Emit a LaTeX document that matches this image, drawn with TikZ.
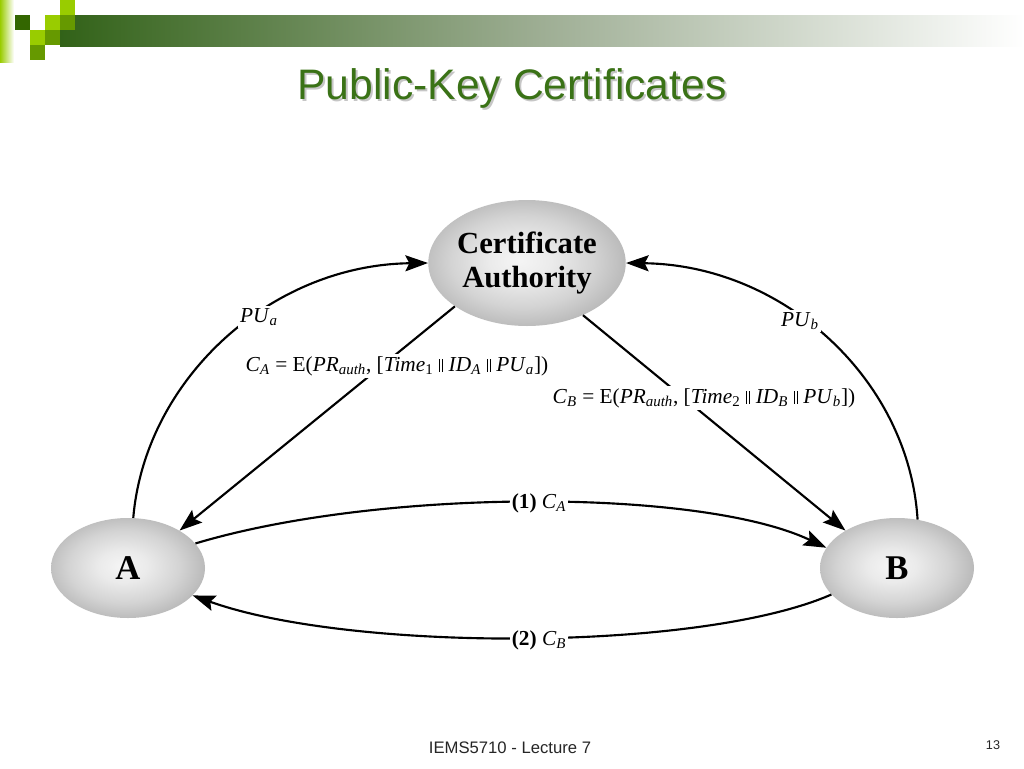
\documentclass[tikz,border=0pt]{standalone}
\usepackage{fontspec}
\setmainfont{Liberation Serif}
\newfontfamily\arialf{Liberation Sans}
\usetikzlibrary{shapes.geometric,arrows.meta}
\definecolor{lgreen}{RGB}{153,204,0}
\definecolor{mgreen}{RGB}{102,153,0}
\definecolor{dgreen}{RGB}{51,102,0}
\definecolor{bargreen}{RGB}{50,98,24}
\definecolor{barmid}{RGB}{158,174,148}
\definecolor{titlegreen}{RGB}{58,114,22}
\pgfdeclareradialshading{bubshade}{\pgfpoint{-2bp}{1bp}}{color(0bp)=(white!96!black); color(8bp)=(white!92!black); color(18bp)=(white!83!black); color(26bp)=(white!73!black); color(31bp)=(white!64!black); color(35bp)=(white!57!black); color(50bp)=(white!57!black)}
\newcommand{\sbb}[1]{\textsubscript{#1}}
\newcommand{\dbar}{\hspace{0.28em}\rule[-0.03em]{0.45pt}{0.62em}\hspace{1.6pt}\rule[-0.03em]{0.45pt}{0.62em}\hspace{0.28em}}
\begin{document}
\begin{tikzpicture}[x=0.75pt,y=-0.75pt,
  bub/.style={ellipse, shade, shading=bubshade, draw=none, inner sep=0pt},
  arr/.style={line width=1.6pt, -{Stealth[length=17pt,width=12pt,inset=3pt]}},
  lab/.style={fill=white, inner sep=1.5pt, font=\fontsize{16}{18}\selectfont}]
\useasboundingbox (0,0) rectangle (1024,768);
\fill[white] (0,0) rectangle (1024,768);
% header decoration
\shade[left color=lgreen, right color=white] (0,0) rectangle (14,62);
\shade[left color=bargreen, right color=white, middle color=barmid] (60,15) rectangle (1024,46);
\fill[dgreen] (15,15) rectangle (30,30);
\fill[lgreen] (30,30) rectangle (45,45);
\fill[mgreen] (45,30) rectangle (60,45);
\fill[mgreen] (30,45) rectangle (45,60);
\fill[lgreen] (45,15) rectangle (60,30);
\fill[mgreen] (60,15) rectangle (75,30);
\fill[lgreen] (60,0) rectangle (75,15);
% title
\node[text=gray!45, font=\arialf\fontsize{32}{36}\selectfont] (titleshadow) at (514,90) {Public-Key Certificates};
\node[text=titlegreen, font=\arialf\fontsize{32}{36}\selectfont] (title) at (512,88) {Public-Key Certificates};
% nodes
\node[bub, minimum width=135pt, minimum height=94.5pt, align=center, font=\bfseries\fontsize{23}{25}\selectfont] (CA) at (527,263) {Certificate\\Authority};
\node[bub, minimum width=115.5pt, minimum height=75pt, font=\bfseries\fontsize{26}{28}\selectfont] (A) at (128,568) {A};
\node[bub, minimum width=115.5pt, minimum height=75pt, font=\bfseries\fontsize{26}{28}\selectfont] (B) at (897,568) {B};
% connectors
\draw[arr] (A.84) .. controls (145,380) and (270,265) .. (CA.180);
\draw[arr] (B.67) .. controls (909,380) and (784,265) .. (CA.0);
\draw[arr] (CA.211) -- (A.36);
\draw[arr] (CA.-43) -- (B.144);
\draw[arr] (A.20.6) .. controls (380,488) and (700,488) .. (B.164);
\draw[arr] (B.202) .. controls (700,652) and (350,652) .. (A.-23.8);
% labels
\node[lab] (lpua) at (259,317) {\textit{PU}\sbb{\textit{a}}};
\node[lab] (lpub) at (800,321) {\textit{PU}\sbb{\textit{b}}};
\node[lab] (lca) at (397,366) {\textit{C}\sbb{\textit{A}} = E(\textit{PR}\sbb{\textit{auth}}, [\textit{Time}\sbb{1}\dbar\textit{ID}\sbb{\textit{A}}\dbar\textit{PU}\sbb{\textit{a}}])};
\node[lab] (lcb) at (704,398) {\textit{C}\sbb{\textit{B}} = E(\textit{PR}\sbb{\textit{auth}}, [\textit{Time}\sbb{2}\dbar\textit{ID}\sbb{\textit{B}}\dbar\textit{PU}\sbb{\textit{b}}])};
\node[lab] (l1) at (539,503) {\textbf{(1)} \textit{C}\sbb{\textit{A}}};
\node[lab] (l2) at (539,640) {\textbf{(2)} \textit{C}\sbb{\textit{B}}};
% footer
\node[font=\arialf\fontsize{12.5}{14}\selectfont, text=black!85] (footer) at (510,748) {IEMS5710 - Lecture 7};
\node[font=\arialf\fontsize{9.5}{11}\selectfont, text=black!85] (pageno) at (993,745) {13};
\end{tikzpicture}
\end{document}
